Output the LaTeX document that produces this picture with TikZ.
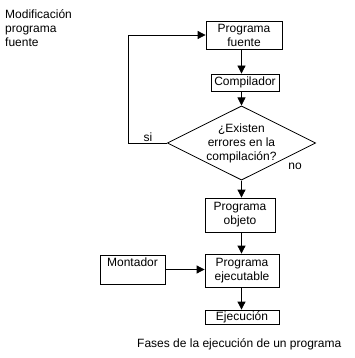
\documentclass[tikz,border=0pt]{standalone}
\usepackage{fontspec}
\setmainfont{Liberation Sans}
\usetikzlibrary{positioning,shapes.geometric,arrows.meta}

\begin{document}
\begin{tikzpicture}[
  x=1pt, y=-1pt,
  every node/.style={font=\fontsize{12}{14}\selectfont},
  fase/.style={draw, line width=0.8pt, align=center, inner sep=1pt},
  decision/.style={draw, diamond, line width=0.8pt, align=center, inner sep=0pt, aspect=2, minimum width=143pt, minimum height=71pt},
  flecha/.style={line width=0.8pt, -{Triangle[width=8pt,length=8pt]}}
]
\useasboundingbox (0,0) rectangle (355,358);
\node[fase, minimum width=76pt, minimum height=28pt] (fuente) at (244,35) {Programa\\fuente};
\node[fase, minimum width=68pt, minimum height=17pt] (comp) at (245,82.5) {Compilador};
\node[decision] (errores) at (241.5,143) {¿Existen\\errores en la\\compilación?};
\node[fase, minimum width=70pt, minimum height=34pt] (objeto) at (240,215) {Programa\\objeto};
\node[fase, minimum width=74pt, minimum height=33pt] (ejec) at (242,270.5) {Programa\\ejecutable};
\node[fase, minimum width=74pt, minimum height=14pt] (ejecucion) at (242,317) {Ejecución};
\node[fase, minimum width=65pt, text height=9pt, text depth=15pt, inner ysep=2.5pt] (montador) at (132.5,269.5) {Montador};
\node[anchor=north west, align=left, inner sep=0pt] (modif) at (5,9.5) {Modificación\\programa\\fuente};
\node (no) at (295,166) {no};
\node[anchor=base west, inner sep=0pt] (titulo) at (137,347.5) {Fases de la ejecución de un programa};

\draw[flecha] (fuente.south -| errores.north) -- (comp.north -| errores.north);
\draw[flecha] (comp.south -| errores.north) -- (errores.north);
\draw[flecha] (errores.south) -- (objeto.north -| errores.south);
\draw[flecha] (objeto.south -| errores.south) -- (ejec.north -| errores.south);
\draw[flecha] (ejec.south -| errores.south) -- (ejecucion.north -| errores.south);
\draw[flecha] (montador.east) -- (ejec.west |- montador.east);
% bucle de correccion
\draw[flecha] (errores.west) -- node[above, inner sep=1pt] (si) {si} ++(-38,0) |- (fuente.west);
\end{tikzpicture}
\end{document}
